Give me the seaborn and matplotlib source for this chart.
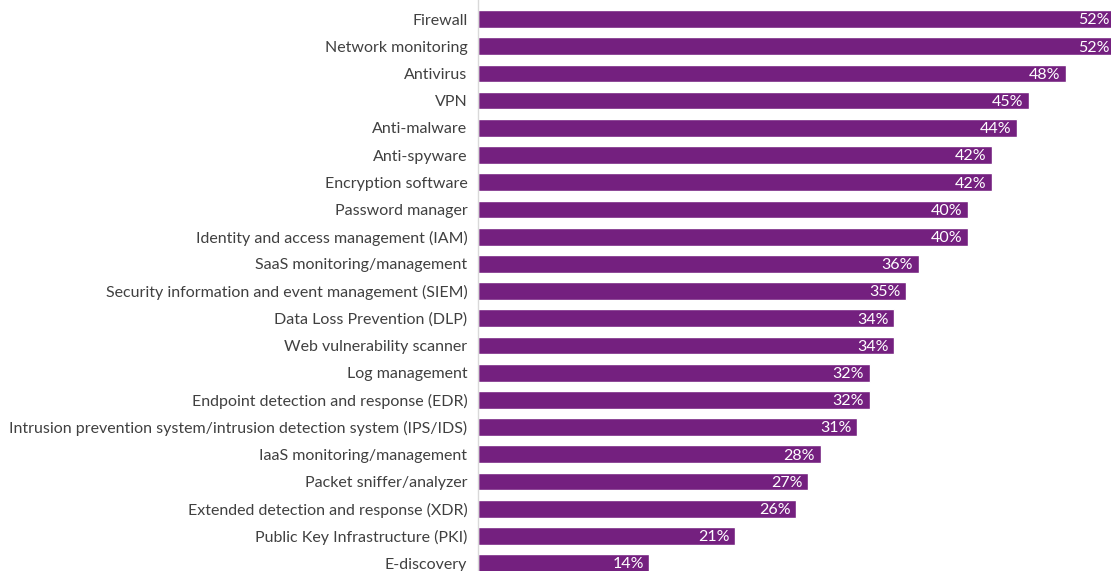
import matplotlib
matplotlib.use("Agg")
import matplotlib.pyplot as plt
import seaborn as sns
import pandas as pd

categories = [
    "Firewall",
    "Network monitoring",
    "Antivirus",
    "VPN",
    "Anti-malware",
    "Anti-spyware",
    "Encryption software",
    "Password manager",
    "Identity and access management (IAM)",
    "SaaS monitoring/management",
    "Security information and event management (SIEM)",
    "Data Loss Prevention (DLP)",
    "Web vulnerability scanner",
    "Log management",
    "Endpoint detection and response (EDR)",
    "Intrusion prevention system/intrusion detection system (IPS/IDS)",
    "IaaS monitoring/management",
    "Packet sniffer/analyzer",
    "Extended detection and response (XDR)",
    "Public Key Infrastructure (PKI)",
    "E-discovery",
]
values = [52, 52, 48, 45, 44, 42, 42, 40, 40, 36, 35, 34, 34, 32, 32, 31, 28, 27, 26, 21, 14]

df = pd.DataFrame({"tool": categories, "pct": values})

sns.set_theme(style="white")
plt.rcParams["font.family"] = ["Lato", "DejaVu Sans"]

BAR = "#74207F"
TEXT = "#404040"

fig = plt.figure(figsize=(11.11, 5.71), dpi=100)
ax = fig.add_axes([0.430, 0.0, 0.570, 1.0])

sns.barplot(data=df, x="pct", y="tool", orient="h", color=BAR,
            saturation=1, width=0.65, ax=ax)

ax.set_xlim(0, 51.7)
ax.set_ylim(20.29, -0.70)
ax.set_xlabel("")
ax.set_ylabel("")
ax.set_xticks([])
ax.tick_params(axis="y", length=0, pad=7.5, labelsize=11.5, labelcolor=TEXT)

for s in ["top", "right", "bottom"]:
    ax.spines[s].set_visible(False)
ax.spines["left"].set_color("#D9D9D9")
ax.spines["left"].set_linewidth(1)

for i, v in enumerate(values):
    ax.text(v - 0.45, i + 0.05, f"{v}%", ha="right", va="center",
            color="white", fontsize=11.5)

fig.savefig("out.png", dpi=100)
